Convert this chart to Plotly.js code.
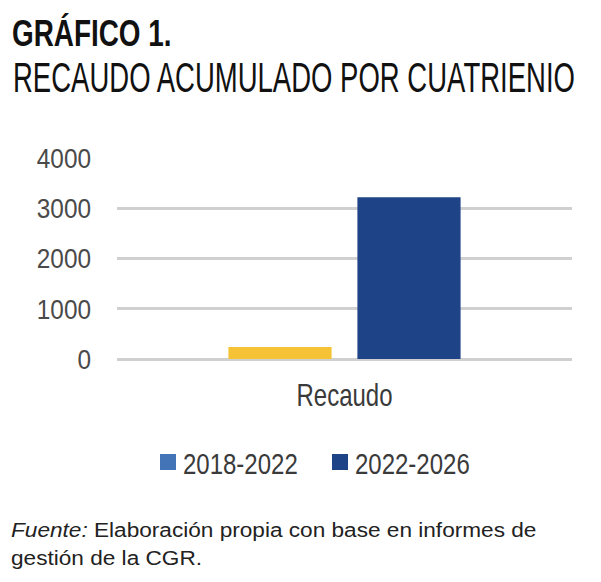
<!DOCTYPE html>
<html>
<head>
<meta charset="utf-8">
<script src="https://cdn.plot.ly/plotly-3.0.1.min.js"></script>
<style>html,body{margin:0;padding:0;background:#fff;}</style>
</head>
<body>
<div id="chart" style="width:601px;height:582px;"></div>
<script>
const categories = ["Recaudo"];
const series2018 = [240];
const series2022 = [3220];
const seriesNames = ["2018-2022", "2022-2026"];
const yTicks = [0, 1000, 2000, 3000, 4000];
const yTickLabels = ["0", "1000", "2000", "3000", "4000"];

const sans = "Liberation Sans, Arial, sans-serif";
const PL = 117, PR = 572, PT = 158, PB = 359;
const px = X => (X - PL) / (PR - PL);
const py = Y => (PB - Y) / (PB - PT);

const data = [
  {type: "bar", x: categories, y: series2018, name: seriesNames[0], marker: {color: "#F5C335"}, showlegend: false, hoverinfo: "none"},
  {type: "bar", x: categories, y: series2022, name: seriesNames[1], marker: {color: "#1E4487"}, showlegend: false, hoverinfo: "none"},
  {type: "scatter", mode: "markers", x: [null], y: [null], name: seriesNames[0],
   marker: {symbol: "square", size: 17, color: "#4474B8"}, hoverinfo: "none"},
  {type: "scatter", mode: "markers", x: [null], y: [null], name: seriesNames[1],
   marker: {symbol: "square", size: 17, color: "#1E4487"}, hoverinfo: "none"}
];

const legFont = {family: sans, size: 30, color: "#3a3a3a"};
const footFont = {family: sans, size: 19.5, color: "#222"};
const layout = {
  width: 601, height: 582,
  margin: {l: PL, r: 601 - PR, t: PT, b: 582 - PB},
  paper_bgcolor: "#fff", plot_bgcolor: "#fff",
  barmode: "group", bargap: 0.433, bargroupgap: 0.2,
  showlegend: true,
  legend: {orientation: "h", x: px(148), xanchor: "left", y: py(462), yanchor: "middle", font: legFont,
           itemwidth: 30, entrywidth: 127, entrywidthmode: "pixels", traceorder: "normal", bgcolor: "rgba(0,0,0,0)"},
  xaxis: {type: "category", showgrid: false, zeroline: false, showline: false, ticks: "",
          tickfont: {family: sans, size: 32, color: "#3a3a3a"}, ticklabelstandoff: 14},
  yaxis: {range: [0, 4000], tickvals: yTicks, ticktext: yTickLabels, showgrid: true, gridcolor: "#D0D0D0", gridwidth: 3,
          zeroline: true, zerolinecolor: "#D0D0D0", zerolinewidth: 3, showline: false, ticks: "",
          tickfont: {family: sans, size: 28, color: "#4a4a4a"}, ticklabelstandoff: 25, fixedrange: true},
  annotations: [
    {xref: "paper", yref: "paper", x: px(10), y: py(33), xanchor: "left", yanchor: "middle", showarrow: false, align: "left",
     text: "<b>GRÁFICO 1.</b>", font: {family: sans, size: 36, color: "#111"}},
    {xref: "paper", yref: "paper", x: px(11), y: py(77.5), xanchor: "left", yanchor: "middle", showarrow: false, align: "left",
     text: "RECAUDO ACUMULADO POR CUATRIENIO", font: {family: sans, size: 42, color: "#111"}},
    {xref: "paper", yref: "paper", x: px(9), y: py(530), xanchor: "left", yanchor: "middle", showarrow: false, align: "left",
     text: "<i>Fuente:</i> Elaboración propia con base en informes de", font: footFont},
    {xref: "paper", yref: "paper", x: px(9), y: py(558), xanchor: "left", yanchor: "middle", showarrow: false, align: "left",
     text: "gestión de la CGR.", font: footFont}
  ]
};

function squeeze(el, s, anchor, dx) {
  if (!el) return;
  let base = el.getAttribute("data-basetf");
  if (base === null) {
    base = el.getAttribute("transform") || "";
    el.setAttribute("data-basetf", base);
  } else if (el.getAttribute("data-sq") === "1") {
    return;
  }
  el.setAttribute("transform", base);
  const b = el.getBBox();
  const ax = anchor === "start" ? b.x : anchor === "end" ? b.x + b.width : b.x + b.width / 2;
  el.setAttribute("transform", (base + ` translate(${ax * (1 - s) + (dx || 0)},0) scale(${s},1)`).trim());
  el.setAttribute("data-sq", "1");
}

function applyAll(gd) {
  const ann = i => gd.querySelector(`.annotation[data-index="${i}"] .annotation-text`);
  squeeze(ann(0), 0.775, "start");
  squeeze(ann(1), 0.655, "start");
  squeeze(ann(2), 1.16, "start");
  squeeze(ann(3), 1.16, "start");
  gd.querySelectorAll("g.ytick text").forEach(t => squeeze(t, 0.87, "end"));
  gd.querySelectorAll("g.xtick text").forEach(t => squeeze(t, 0.75, "middle"));
  gd.querySelectorAll("text.legendtext").forEach(t => squeeze(t, 0.8, "start", -5));
}

Plotly.newPlot("chart", data, layout, {staticPlot: true, displayModeBar: false}).then(gd => {
  applyAll(gd);
  gd.on("plotly_afterplot", () => applyAll(gd));
  setTimeout(() => applyAll(gd), 50);
  setTimeout(() => applyAll(gd), 300);
});
</script>
</body>
</html>
